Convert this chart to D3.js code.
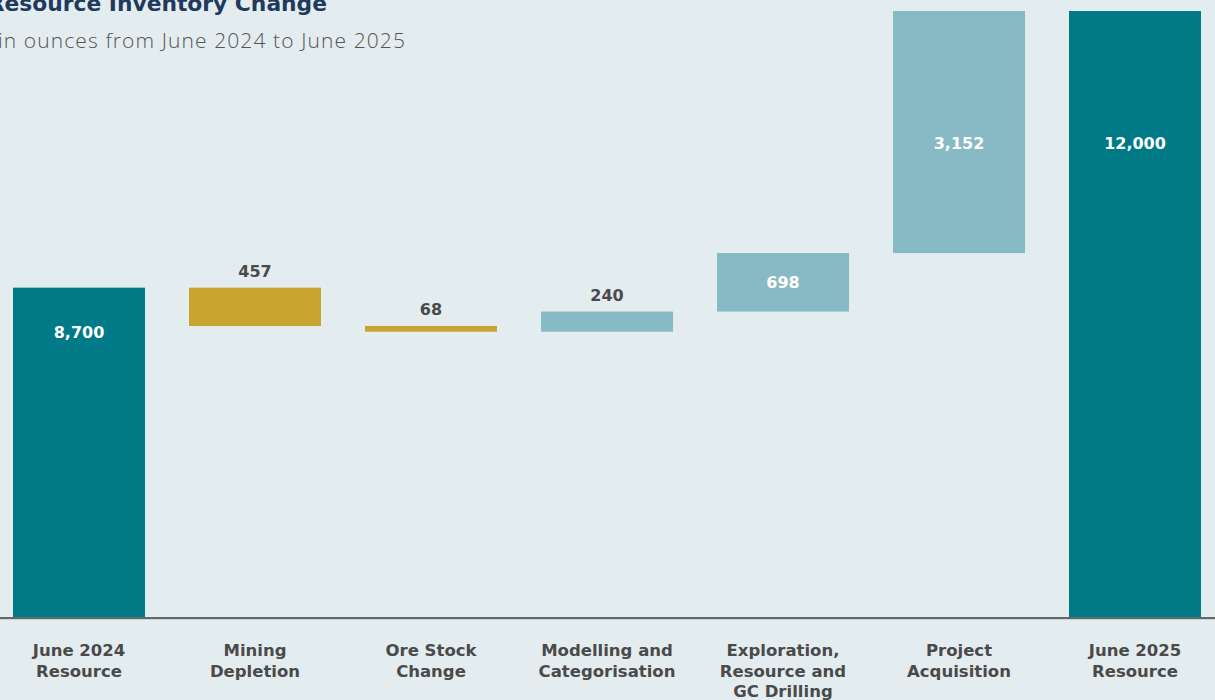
<!DOCTYPE html>
<html>
<head>
<meta charset="utf-8">
<script src="https://cdn.jsdelivr.net/npm/d3@7"></script>
<style>
  html, body { margin: 0; padding: 0; background: #e3ecee; }
  svg { display: block; font-family: "DejaVu Sans", sans-serif; }
</style>
</head>
<body>
<svg id="chart" width="1215" height="700"></svg>
<script>
// Resource inventory waterfall, June 2024 -> June 2025
const categories = [
  ["June 2024", "Resource"],
  ["Mining", "Depletion"],
  ["Ore Stock", "Change"],
  ["Modelling and", "Categorisation"],
  ["Exploration,", "Resource and", "GC Drilling"],
  ["Project", "Acquisition"],
  ["June 2025", "Resource"]
];
const kinds = ["total", "decrease", "decrease", "increase", "increase", "increase", "total"];
const values = [8700, 457, 68, 240, 698, 3152, 12000];

const colors = { total: "#007a87", decrease: "#c9a42e", increase: "#88bac5" };

const W = 1215, H = 700;
const plotTop = 11, baseY = 618;

const svg = d3.select("#chart");

// Floating segments built from the running total
let running = 0;
const bars = values.map((v, i) => {
  let lo, hi;
  if (kinds[i] === "total") { lo = null; hi = v; running = v; }
  else if (kinds[i] === "decrease") { hi = running; lo = running - v; running = lo; }
  else { lo = running; hi = running + v; running = hi; }
  return { i, kind: kinds[i], value: v, lo, hi, label: categories[i] };
});

const x = d3.scaleBand()
  .domain(d3.range(categories.length))
  .range([-9, 1223])
  .paddingInner(0.25)
  .paddingOuter(0.125);

const y = d3.scaleLinear()
  .domain([4760, 12000])
  .range([baseY, plotTop]);

svg.append("defs").append("clipPath").attr("id", "plot")
  .append("rect").attr("x", 0).attr("y", plotTop).attr("width", W).attr("height", baseY - plotTop);

const g = svg.append("g").attr("clip-path", "url(#plot)");

g.selectAll("rect.bar").data(bars).join("rect")
  .attr("class", "bar")
  .attr("x", d => x(d.i))
  .attr("width", x.bandwidth())
  .attr("y", d => y(d.hi))
  .attr("height", d => (d.lo === null ? baseY - 1 : y(d.lo)) - y(d.hi))
  .attr("fill", d => colors[d.kind]);

// Axis baseline
svg.append("line")
  .attr("x1", 0).attr("x2", W)
  .attr("y1", baseY).attr("y2", baseY)
  .attr("stroke", "#666").attr("stroke-width", 2);
svg.append("line")
  .attr("x1", 0).attr("x2", W)
  .attr("y1", baseY + 1.5).attr("y2", baseY + 1.5)
  .attr("stroke", "#c9d2d4").attr("stroke-width", 1);

const fmt = d3.format(",");

// Value labels: white inside bars that are tall enough, dark above thin ones
function labelPos(d) {
  const top = Math.max(y(d.hi), plotTop);
  if (d.kind === "total") return d.i === 0 ? { y: top + 50, inside: true } : null;
  const bottom = y(d.lo);
  const h = bottom - top;
  if (h > 150) return { y: top + 138, inside: true };
  if (h >= 45) return { y: (top + bottom) / 2 + 6, inside: true };
  return { y: top - 11, inside: false };
}
const pos = bars.map(labelPos);
// closing total label shares the row of the last step's label
pos[pos.length - 1] = { y: pos[pos.length - 2].y, inside: true };

svg.selectAll("text.val").data(bars).join("text")
  .attr("class", "val")
  .attr("x", d => x(d.i) + x.bandwidth() / 2)
  .attr("y", d => pos[d.i].y)
  .attr("text-anchor", "middle")
  .attr("font-size", 16)
  .attr("font-weight", 700)
  .attr("fill", d => pos[d.i].inside ? "#ffffff" : "#4a4a4a")
  .text(d => fmt(d.value));

// Category labels
const cat = svg.selectAll("text.cat").data(bars).join("text")
  .attr("class", "cat")
  .attr("text-anchor", "middle")
  .attr("font-size", 16.5)
  .attr("font-weight", 700)
  .attr("fill", "#4a4a4a");
cat.selectAll("tspan").data(d => d.label.map(t => ({ t, cx: x(d.i) + x.bandwidth() / 2 }))).join("tspan")
  .attr("x", d => d.cx)
  .attr("y", (d, k) => 656 + k * 20.5)
  .text(d => d.t);

// Title and subtitle
svg.append("text")
  .attr("x", 327).attr("y", 11)
  .attr("text-anchor", "end")
  .attr("font-size", 21.8)
  .attr("font-weight", 700)
  .attr("fill", "#1f3a5c")
  .text("Resource Inventory Change");

svg.append("text")
  .attr("x", 406).attr("y", 48)
  .attr("text-anchor", "end")
  .attr("font-family", "'Open Sans', sans-serif")
  .attr("font-size", 21)
  .attr("font-weight", 300)
  .attr("letter-spacing", 1.1)
  .attr("fill", "#555")
  .text("Change in ounces from June 2024 to June 2025");
</script>
</body>
</html>
